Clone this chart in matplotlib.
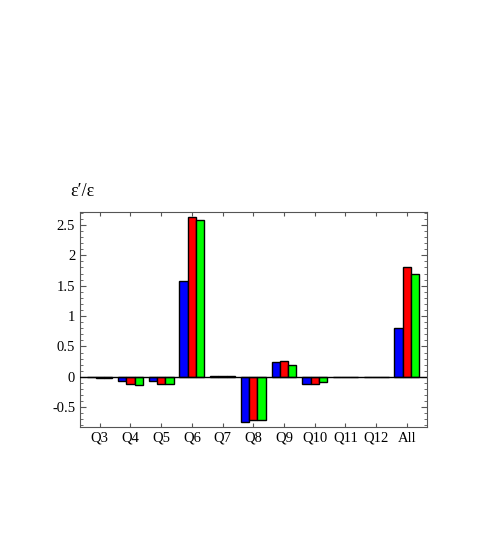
import numpy as np
import matplotlib.pyplot as plt
from matplotlib.ticker import MultipleLocator

# Data
categories = ['Q3', 'Q4', 'Q5', 'Q6', 'Q7', 'Q8', 'Q9', 'Q10', 'Q11', 'Q12', 'All']
blue_vals = [-0.01, -0.07, -0.07, 1.57, 0.01, -0.75, 0.24, -0.12, 0.0, 0.0, 0.81]
red_vals = [-0.02, -0.12, -0.12, 2.63, 0.01, -0.71, 0.26, -0.12, -0.01, 0.0, 1.81]
green_vals = [-0.02, -0.14, -0.12, 2.58, 0.01, -0.71, 0.20, -0.08, 0.0, 0.0, 1.69]
y_ticks = [-0.5, 0, 0.5, 1, 1.5, 2, 2.5]
y_tick_labels = ['-0.5', '0', '0.5', '1', '1.5', '2', '2.5']

plt.rcParams['font.family'] = ['Liberation Serif', 'DejaVu Serif']

fig = plt.figure(figsize=(4.85, 5.33), dpi=100)
ax = fig.add_axes([0.165, 0.1995, 0.715, 0.4035])

x = np.arange(len(categories))
w = 0.27
for off, vals, col in [(-w, blue_vals, '#0000ff'), (0, red_vals, '#ff0000'), (w, green_vals, '#00ff00')]:
    ax.bar(x + off, vals, width=w, color=col, edgecolor='black', linewidth=1.0, zorder=2)

ax.axhline(0, color='black', linewidth=1.0, zorder=3)

ax.set_xlim(-0.64, 10.65)
ax.set_ylim(-0.82, 2.72)
ax.set_xticks(x)
ax.set_xticklabels(categories, fontsize=10.5)
ax.set_yticks(y_ticks)
ax.set_yticklabels(y_tick_labels, fontsize=10.5)
ax.yaxis.set_minor_locator(MultipleLocator(0.1))
ax.tick_params(axis='both', which='both', direction='in', top=True, right=True, colors='#555555', labelcolor='black')
ax.tick_params(axis='y', which='major', length=4)
ax.tick_params(axis='y', which='minor', length=2)
ax.tick_params(axis='x', which='major', length=3)
for s in ax.spines.values():
    s.set_color('#555555')

fig.text(0.144, 0.633, "ε′/ε", fontsize=13)

fig.savefig('out.png', dpi=100)
